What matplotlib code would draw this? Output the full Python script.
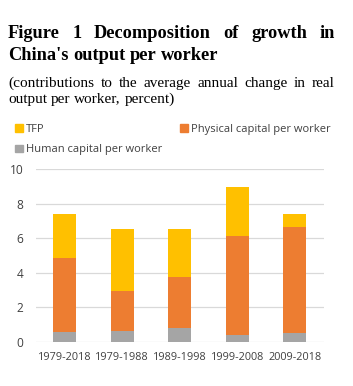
import matplotlib
matplotlib.use("Agg")
import matplotlib.pyplot as plt
from matplotlib.patches import Patch

categories = ["1979-2018", "1979-1988", "1989-1998", "1999-2008", "2009-2018"]
human = [0.58, 0.62, 0.79, 0.41, 0.52]
physical = [4.30, 2.35, 2.96, 5.75, 6.12]
tfp = [2.51, 3.57, 2.77, 2.84, 0.77]
yticks = [0, 2, 4, 6, 8, 10]

W, H = 353, 386
fig = plt.figure(figsize=(W / 100, H / 100), dpi=100)
renderer = fig.canvas.get_renderer()

def justified(words, y_px, x0, x1, justify, **kw):
    # place words so that the line spans x0..x1 (pixels)
    texts = [fig.text(0, 1 - y_px / H, w, va="baseline", ha="left", **kw) for w in words]
    widths = [t.get_window_extent(renderer).width for t in texts]
    if justify and len(words) > 1:
        gap = (x1 - x0 - sum(widths)) / (len(words) - 1)
    else:
        sp = fig.text(0, 0, "a b", **kw)
        w_ab = sp.get_window_extent(renderer).width
        sp2 = fig.text(0, 0, "ab", **kw)
        gap = w_ab - sp2.get_window_extent(renderer).width
        sp.remove(); sp2.remove()
    x = x0
    for t, w in zip(texts, widths):
        t.set_x(x / W)
        x += w + gap

tkw = dict(family="Liberation Serif", fontweight="bold", fontsize=13.2, color="black")
justified("Figure 1 Decomposition of growth in".split(), 37.5, 8, 335, True, **tkw)
justified("China's output per worker".split(), 60, 8, 335, False, **tkw)
skw = dict(family="Liberation Serif", fontsize=11.0, color="black")
justified("(contributions to the average annual change in real".split(), 87, 8, 335, True, **skw)
justified("output per worker, percent)".split(), 102.5, 8, 335, False, **skw)

ax = fig.add_axes([36 / W, 44 / H, (323.5 - 36) / W, (342 - 169.3) / H])
x = list(range(len(categories)))
c_h, c_p, c_t = "#A5A5A5", "#ED7D31", "#FFC000"
base2 = [a + b for a, b in zip(human, physical)]
ax.bar(x, human, width=0.4, color=c_h, zorder=3)
ax.bar(x, physical, bottom=human, width=0.4, color=c_p, zorder=3)
ax.bar(x, tfp, bottom=base2, width=0.4, color=c_t, zorder=3)

ax.set_xlim(-0.5, len(categories) - 0.5)
ax.set_ylim(0, 10)
ax.set_yticks(yticks)
ax.set_xticks(x)
ax.set_xticklabels(categories)
ax.grid(axis="y", color="#D9D9D9", linewidth=0.9, zorder=0)
for s in ax.spines.values():
    s.set_visible(False)
ax.tick_params(length=0, labelsize=7.8, colors="#404040", labelfontfamily="Open Sans")
ax.tick_params(axis="y", pad=9, labelsize=8.6)
ax.tick_params(axis="x", pad=7)

handles = [Patch(color=c_t, label="TFP"),
           Patch(color=c_h, label="Human capital per worker"),
           Patch(color=c_p, label="Physical capital per worker")]
fig.legend(handles=handles, ncol=2, loc="upper left",
           bbox_to_anchor=(15 / W, 1 - 124 / H), frameon=False,
           prop={"family": "Open Sans", "size": 8.0}, labelcolor="#404040",
           handlelength=0.7, handleheight=0.7, handletextpad=0.3,
           columnspacing=1.6, labelspacing=0.85, borderpad=0, borderaxespad=0)

fig.savefig("out.png", dpi=100)
